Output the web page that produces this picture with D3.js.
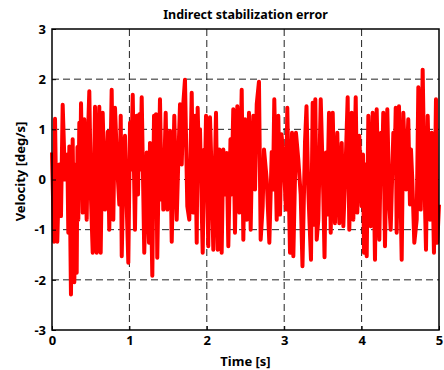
<!DOCTYPE html>
<html lang="en">
<head>
    <meta charset="UTF-8">
    <title>Indirect stabilization error</title>
    <script src="https://d3js.org/d3.v7.min.js"></script>
    <style>
        body { margin: 0; background: #fff; }
        svg text { font-family: "Noto Sans", "DejaVu Sans", sans-serif; font-weight: bold; fill: #000; }
    </style>
</head>
<body>
    <div id="chart"></div>

    <script>
        // time samples [s] (peaks and troughs)
        const time = [
            0.000, 0.026, 0.039, 0.052, 0.068, 0.094, 0.116, 0.138, 0.168, 0.198,
            0.211, 0.224, 0.245, 0.267, 0.288, 0.310, 0.319, 0.329, 0.340, 0.353,
            0.362, 0.375, 0.397, 0.417, 0.448, 0.465, 0.482, 0.504, 0.526, 0.556,
            0.578, 0.594, 0.611, 0.629, 0.655, 0.685, 0.720, 0.740, 0.771, 0.792,
            0.814, 0.844, 0.870, 0.888, 0.901, 0.924, 0.943, 0.963, 0.986, 1.008,
            1.021, 1.043, 1.072, 1.094, 1.111, 1.128, 1.143, 1.159, 1.192, 1.224,
            1.253, 1.266, 1.296, 1.318, 1.331, 1.344, 1.360, 1.395, 1.417, 1.428,
            1.438, 1.469, 1.490, 1.525, 1.547, 1.580, 1.611, 1.634, 1.654, 1.676,
            1.696, 1.718, 1.748, 1.774, 1.805, 1.826, 1.848, 1.870, 1.882, 1.899,
            1.912, 1.947, 1.968, 1.977, 1.990, 2.019, 2.041, 2.061, 2.084, 2.119,
            2.141, 2.162, 2.177, 2.192, 2.213, 2.235, 2.257, 2.278, 2.306, 2.319,
            2.342, 2.364, 2.394, 2.420, 2.451, 2.472, 2.494, 2.516, 2.545, 2.567,
            2.584, 2.601, 2.623, 2.645, 2.674, 2.696, 2.722, 2.739, 2.774, 2.808,
            2.839, 2.855, 2.872, 2.903, 2.924, 2.946, 2.965, 2.988, 3.023, 3.040,
            3.075, 3.101, 3.118, 3.152, 3.182, 3.213, 3.236, 3.269, 3.288, 3.311,
            3.346, 3.368, 3.385, 3.402, 3.420, 3.441, 3.472, 3.505, 3.521, 3.540,
            3.553, 3.579, 3.601, 3.627, 3.656, 3.686, 3.712, 3.743, 3.764, 3.792,
            3.820, 3.841, 3.872, 3.893, 3.924, 3.944, 3.970, 4.001, 4.018, 4.031,
            4.050, 4.066, 4.087, 4.118, 4.143, 4.173, 4.195, 4.229, 4.251, 4.264,
            4.280, 4.302, 4.332, 4.358, 4.376, 4.410, 4.425, 4.441, 4.453, 4.483,
            4.518, 4.539, 4.574, 4.603, 4.625, 4.638, 4.655, 4.681, 4.712, 4.733,
            4.764, 4.789, 4.810, 4.832, 4.854, 4.884, 4.906, 4.935, 4.961, 4.978,
            5.000
        ];

        // velocity [deg/s]
        const velocity = [
            0.54, -1.24, 1.21, -0.20, -1.24, 0.30, -0.73, 1.49, 0.00, 0.50,
            -1.06, 0.66, -2.29, 0.80, -2.05, 0.30, -1.86, 0.65, -0.80, 1.13,
            -0.30, 1.52, -0.66, 1.20, -0.80, 0.90, 1.76, -0.40, -1.46, 1.45,
            -1.46, 0.40, 1.45, -1.46, 1.33, -0.60, 0.95, -1.00, 1.79, -0.80,
            1.43, 0.20, -0.50, 1.27, -1.53, 0.30, 0.87, -0.40, -1.66, 1.13,
            0.20, 1.69, -1.00, 1.27, -0.30, 1.30, 0.20, 1.64, -1.46, 0.54,
            -1.26, 0.73, -1.92, 1.27, 0.00, 1.30, -1.56, 1.60, -0.40, 0.30,
            -0.60, 1.33, -0.60, 0.97, -1.24, 1.27, -0.80, 0.50, 1.50, 0.30,
            1.50, 1.99, -0.53, -0.80, 1.73, -0.66, 1.27, -1.26, 1.43, 0.30,
            1.00, -1.46, 0.60, 0.10, 1.27, -1.33, 1.24, 0.20, -1.40, 1.33,
            -1.40, 0.60, -0.20, -1.46, 0.60, -0.30, 0.53, -1.33, 0.80, -0.30,
            1.40, -1.06, 1.46, -0.66, 1.79, -1.20, 1.20, -0.80, 1.33, -1.00,
            0.50, 1.27, -0.20, 1.50, 1.95, -1.20, -0.53, 0.60, 0.00, -1.26,
            0.55, -0.20, 1.60, -0.80, 1.27, -0.70, 0.90, 0.53, -0.60, 1.43,
            -1.46, 0.93, -1.53, 0.93, 0.40, -0.30, -1.73, 0.75, 1.46, -0.20,
            -1.60, 1.53, -0.90, 1.60, -1.20, -0.80, 1.60, -0.30, -1.55, 0.54,
            -0.70, 1.33, -1.06, 1.33, -0.87, 0.93, -0.87, 0.73, -0.93, 0.20,
            1.64, -1.00, 1.33, -0.80, 1.64, -0.66, 0.87, -0.53, 0.50, -1.46,
            0.30, -1.53, 1.27, -0.93, 1.33, -1.60, 1.40, -1.20, 0.93, 0.10,
            1.33, -1.33, 1.40, -0.50, -1.00, 0.93, 0.20, 1.43, -1.06, 1.46,
            -1.60, 1.33, -0.20, 1.20, -0.50, 0.60, 0.00, -1.26, -0.80, 1.84,
            -0.60, 2.19, 0.10, -1.40, 1.27, -0.80, 0.93, -1.46, 1.60, -1.26,
            -0.50
        ];

        const xTicks = [0, 1, 2, 3, 4, 5];
        const yTicks = [-3, -2, -1, 0, 1, 2, 3];

        const width = 444;
        const height = 370;
        const margin = { top: 29, right: 5, bottom: 40, left: 52 };
        const innerW = width - margin.left - margin.right;
        const innerH = height - margin.top - margin.bottom;

        const svg = d3.select("#chart")
            .append("svg")
            .attr("width", width)
            .attr("height", height);

        const x = d3.scaleLinear().domain([0, 5]).range([0, innerW]);
        const y = d3.scaleLinear().domain([-3, 3]).range([innerH, 0]);

        const g = svg.append("g")
            .attr("transform", `translate(${margin.left},${margin.top})`);

        // grid (dashed)
        g.selectAll(".vgrid")
            .data(xTicks.slice(1, -1))
            .enter().append("line")
            .attr("x1", d => x(d)).attr("x2", d => x(d))
            .attr("y1", 0).attr("y2", innerH)
            .attr("stroke", "#222").attr("stroke-width", 1)
            .attr("stroke-dasharray", "7,4");

        g.selectAll(".hgrid")
            .data(yTicks.slice(1, -1))
            .enter().append("line")
            .attr("x1", 0).attr("x2", innerW)
            .attr("y1", d => y(d)).attr("y2", d => y(d))
            .attr("stroke", "#222").attr("stroke-width", 1)
            .attr("stroke-dasharray", "7,4");

        // signal
        const points = time.map((t, i) => [t, velocity[i]]);
        const line = d3.line()
            .x(d => x(d[0]))
            .y(d => y(d[1]));

        g.append("path")
            .datum(points)
            .attr("fill", "none")
            .attr("stroke", "#ff0000")
            .attr("stroke-width", 4)
            .attr("stroke-linejoin", "round")
            .attr("d", line);

        // axes (inward ticks, like matlab)
        const fmt = d => String(d);
        const xAxis = g.append("g")
            .attr("transform", `translate(0,${innerH})`)
            .call(d3.axisBottom(x).tickValues(xTicks).tickFormat(fmt).tickSizeInner(-4).tickSizeOuter(0).tickPadding(6));
        const yAxis = g.append("g")
            .call(d3.axisLeft(y).tickValues(yTicks).tickFormat(fmt).tickSizeInner(-4).tickSizeOuter(0).tickPadding(6));

        [xAxis, yAxis].forEach(a => {
            a.select(".domain").remove();
            a.selectAll("text").style("font-size", "13px").style("font-weight", "bold");
        });

        // frame
        g.append("rect")
            .attr("width", innerW).attr("height", innerH)
            .attr("fill", "none").attr("stroke", "#000").attr("stroke-width", 1.5);

        // titles
        svg.append("text")
            .attr("x", margin.left + innerW / 2).attr("y", 19)
            .attr("text-anchor", "middle")
            .style("font-size", "12.5px")
            .text("Indirect stabilization error");

        svg.append("text")
            .attr("x", margin.left + innerW / 2).attr("y", 366)
            .attr("text-anchor", "middle")
            .style("font-size", "13px")
            .text("Time [s]");

        svg.append("text")
            .attr("transform", `translate(25,${margin.top + innerH / 2 - 8}) rotate(-90)`)
            .attr("text-anchor", "middle")
            .style("font-size", "13px")
            .text("Velocity [deg/s]");
    </script>
</body>
</html>
